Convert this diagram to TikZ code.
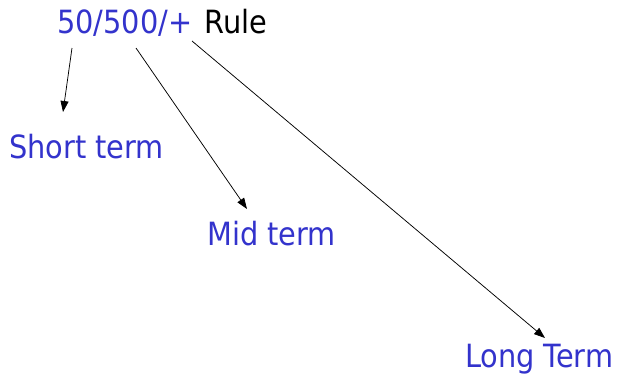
\documentclass[tikz,border=0pt]{standalone}
\usepackage{fontspec}
\setmainfont{DejaVu Sans Condensed}
\usetikzlibrary{arrows.meta}
\definecolor{termblue}{RGB}{51,51,204}
\tikzset{
  lbl/.style={inner sep=0pt, anchor=base west, font=\fontsize{32}{38}\selectfont},
  term/.style={lbl, text=termblue},
  conn/.style={draw=black, line width=0.75pt, -{Triangle[length=11pt,width=8pt]}}
}
\begin{document}
\begin{tikzpicture}[x=1pt,y=-1pt]
\useasboundingbox (0,0) rectangle (621,376);
\node[lbl] (title) at (57,33) {\textcolor{termblue}{50/500/+}\hspace{3pt} Rule};
\node[term] (short) at (9,158) {Short term};
\node[term] (mid) at (207,245) {Mid term};
\node[term] (long) at (465,367) {Long Term};
\coordinate (s1) at (72,48);
\coordinate (s2) at (136,48);
\coordinate (s3) at (192,41);
\coordinate (e1) at (63,112);
\coordinate (e2) at (247,209);
\coordinate (e3) at (545,338);
\draw[conn] (s1) -- (e1);
\draw[conn] (s2) -- (e2);
\draw[conn] (s3) -- (e3);
\end{tikzpicture}
\end{document}
